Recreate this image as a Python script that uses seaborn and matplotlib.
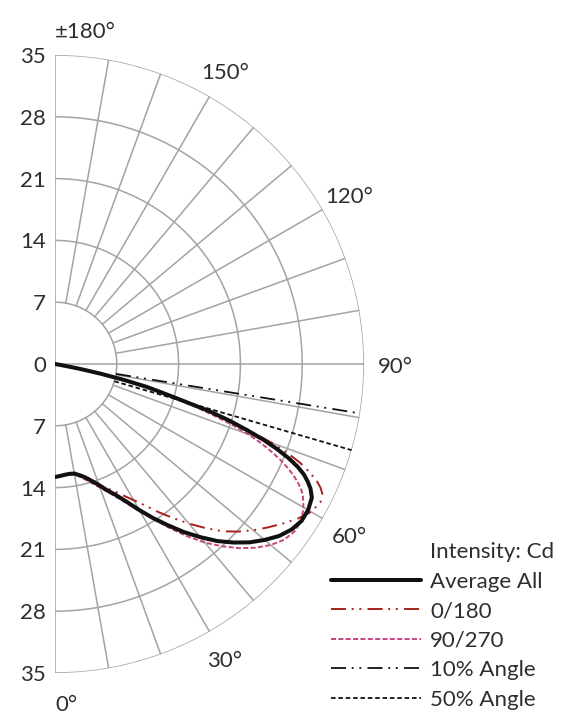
import numpy as np
import pandas as pd
import matplotlib
matplotlib.use("Agg")
import matplotlib.pyplot as plt
import seaborn as sns
from matplotlib.lines import Line2D
from matplotlib.transforms import offset_copy

# ---------------- data ----------------
avg_angle = [0, 2.5, 5, 7.5, 10, 12.5, 15, 17.5, 20, 22.5, 25, 27.5, 30, 32.5, 35, 37.5, 40, 42.5, 45, 47.5,
             50, 52.5, 55, 57.5, 60, 62.5, 64, 65, 66, 67, 68, 69, 70, 71, 72, 73, 74, 75, 76, 77, 78, 79, 80, 81]
avg_cd = [12.8, 12.7, 12.6, 12.55, 12.6, 12.9, 13.3, 13.9, 14.6, 15.5, 16.4, 17.6, 19.1, 20.7, 22.3, 24.0, 25.6, 27.2, 28.6, 29.9,
          31.0, 32.0, 32.7, 33.1, 33.1, 32.8, 32.2, 31.6, 30.9, 29.9, 28.6, 27.0, 25.2, 23.0, 20.8, 18.3, 15.0, 12.6, 10.7, 8.0, 5.3, 2.8, 0.8, 0.0]

c0_angle = [0, 2.5, 5, 7.5, 10, 12.5, 15, 17.5, 20, 22.5, 25, 27.5, 30, 32.5, 35, 37.5, 40, 42.5, 45, 47.5,
            50, 52.5, 55, 57.5, 60, 62.5, 64, 65, 66, 67, 68, 69, 70, 71, 72, 73, 74, 75, 76, 77, 78, 79, 80, 81]
c0_cd = [12.8, 12.7, 12.6, 12.6, 12.7, 12.9, 13.3, 13.9, 14.6, 15.2, 15.9, 16.8, 17.8, 19.0, 20.5, 22.0, 23.6, 25.2, 26.8, 28.1,
         29.3, 30.4, 31.5, 32.6, 33.5, 33.9, 33.7, 33.2, 32.4, 31.3, 30.0, 28.3, 26.2, 23.5, 20.8, 18.2, 15.0, 12.6, 10.6, 8.0, 5.3, 2.8, 0.8, 0.0]

c90_angle = [0, 2.5, 5, 7.5, 10, 12.5, 15, 17.5, 20, 22.5, 25, 27.5, 30, 32.5, 35, 37.5, 40, 42.5, 45, 47.5,
             50, 52.5, 55, 57.5, 60, 62, 63, 64, 65, 66, 67, 68, 69, 70, 71, 72, 73, 74, 75, 76, 77, 78, 79, 80, 81]
c90_cd = [12.8, 12.7, 12.6, 12.6, 12.7, 13.1, 13.6, 14.2, 14.9, 15.7, 16.7, 17.9, 19.3, 20.9, 22.7, 24.6, 26.4, 28.0, 29.5, 30.8,
          31.9, 32.7, 33.1, 33.1, 32.5, 31.8, 31.3, 30.6, 29.8, 28.8, 27.7, 26.4, 25.0, 23.3, 21.3, 19.0, 16.8, 14.4, 12.2, 10.3, 7.8, 5.2, 2.8, 0.8, 0.0]

angle10 = 80.8   # 10% angle (deg)
angle50 = 73.8   # 50% angle (deg)

r_ticks = [7, 14, 21, 28, 35]
theta_labels = ["0°", "30°", "60°", "90°", "120°", "150°", "±180°"]
theta_label_pos = [0, 30, 60, 90, 120, 150, 180]
series_names = ["Average All", "0/180", "90/270", "10% Angle", "50% Angle"]
legend_title = "Intensity: Cd"

# ---------------- style ----------------
sns.set_theme(style="white")
plt.rcParams["font.family"] = ["Lato", "DejaVu Sans"]
plt.rcParams["lines.scale_dashes"] = False
TXT = "#2e2e2e"
GRID = "#a3a3a3"
FS = 16

W, H = 563, 715
fig = plt.figure(figsize=(W / 100, H / 100), dpi=100)
cx, cy, R = 55, 364, 309
# matplotlib centres a half-disc wedge inside a square box of side 2R
ax = fig.add_axes([(cx - R / 2) / W, (H - cy - R) / H, 2 * R / W, 2 * R / H], projection="polar")
ax.set_theta_zero_location("S")
ax.set_theta_direction(1)
ax.set_thetamin(0)
ax.set_thetamax(180)
ax.set_ylim(0, 35)
ax.grid(False)
ax.set_xticks([])
ax.set_yticks([])

# grid: circles
th = np.linspace(0, np.pi, 400)
for r in r_ticks:
    ax.plot(th, np.full_like(th, r), color=GRID, lw=1.1, zorder=1, solid_capstyle="butt")
# radial lines
for d in range(10, 180, 10):
    r0 = 0 if d == 90 else 7
    ax.plot([np.deg2rad(d)] * 2, [r0, 35], color=GRID, lw=1.1, zorder=1)
for d in (0, 180):
    ax.plot([np.deg2rad(d)] * 2, [0, 35], color=GRID, lw=1.1, zorder=1)

# ---------------- series ----------------
dd_style = (0, (10.8, 4.1, 1.4, 4.1, 1.4, 4.5))
sns.lineplot(x=np.deg2rad(c0_angle), y=c0_cd, ax=ax, color="#a8201a", lw=1.4,
             linestyle=dd_style, estimator=None, sort=False, label=series_names[1], zorder=3)
sns.lineplot(x=np.deg2rad(c90_angle), y=c90_cd, ax=ax, color="#c8457f", lw=1.4,
             linestyle=(0, (3.6, 1.7)), estimator=None, sort=False, label=series_names[2], zorder=3)
sns.lineplot(x=np.deg2rad(avg_angle), y=avg_cd, ax=ax, color="#111111", lw=2.9,
             estimator=None, sort=False, label=series_names[0], zorder=4,
             solid_capstyle="round", solid_joinstyle="round")
sns.lineplot(x=np.deg2rad([angle10, angle10]), y=[7, 35], ax=ax, color="#111111", lw=1.3,
             linestyle=dd_style, estimator=None, sort=False, label=series_names[3], zorder=3)
sns.lineplot(x=np.deg2rad([angle50, angle50]), y=[7, 35], ax=ax, color="#111111", lw=1.3,
             linestyle=(0, (3.3, 2.0)), estimator=None, sort=False, label=series_names[4], zorder=3)
ax.set_xlabel("")
ax.set_ylabel("")
ax.set_ylim(0, 35)

# ---------------- labels ----------------
tr = offset_copy(ax.transData, fig=fig, x=-9, y=-2, units="dots")
for r in r_ticks:
    ax.text(np.pi, r, str(r), transform=tr, ha="right", va="center", fontsize=FS, color=TXT, clip_on=False)
    ax.text(0, r, str(r), transform=tr, ha="right", va="center", fontsize=FS, color=TXT, clip_on=False)
ax.text(0, 0, "0", transform=tr, ha="right", va="center", fontsize=FS, color=TXT, clip_on=False)

trl = offset_copy(ax.transData, fig=fig, x=0, y=-3, units="dots")
for lab, d in zip(theta_labels, theta_label_pos):
    if d == 180:
        ax.text(np.deg2rad(d), 37.9, lab, transform=trl, ha="left", va="center", fontsize=FS, color=TXT, clip_on=False)
    elif d == 0:
        ax.text(np.deg2rad(d), 38.3, lab, transform=trl, ha="left", va="center", fontsize=FS, color=TXT, clip_on=False)
    else:
        ax.text(np.deg2rad(d), 38.5, lab, transform=trl, ha="center", va="center", fontsize=FS, color=TXT, clip_on=False)

# ---------------- legend ----------------
handles, labels = ax.get_legend_handles_labels()
order = [labels.index(n) for n in series_names]
hs = [Line2D([], [], color="none", label=legend_title)] + [handles[i] for i in order]
leg = ax.legend(handles=hs, loc="upper left", bbox_to_anchor=(331 / W, (H - 542) / H),
                bbox_transform=fig.transFigure, frameon=False, fontsize=FS,
                handlelength=4.05, handletextpad=0.42, labelspacing=0.43,
                borderpad=0, borderaxespad=0)
for t in leg.get_texts():
    t.set_color(TXT)

ax.set_axis_off()
fig.savefig("out.png", dpi=100)
